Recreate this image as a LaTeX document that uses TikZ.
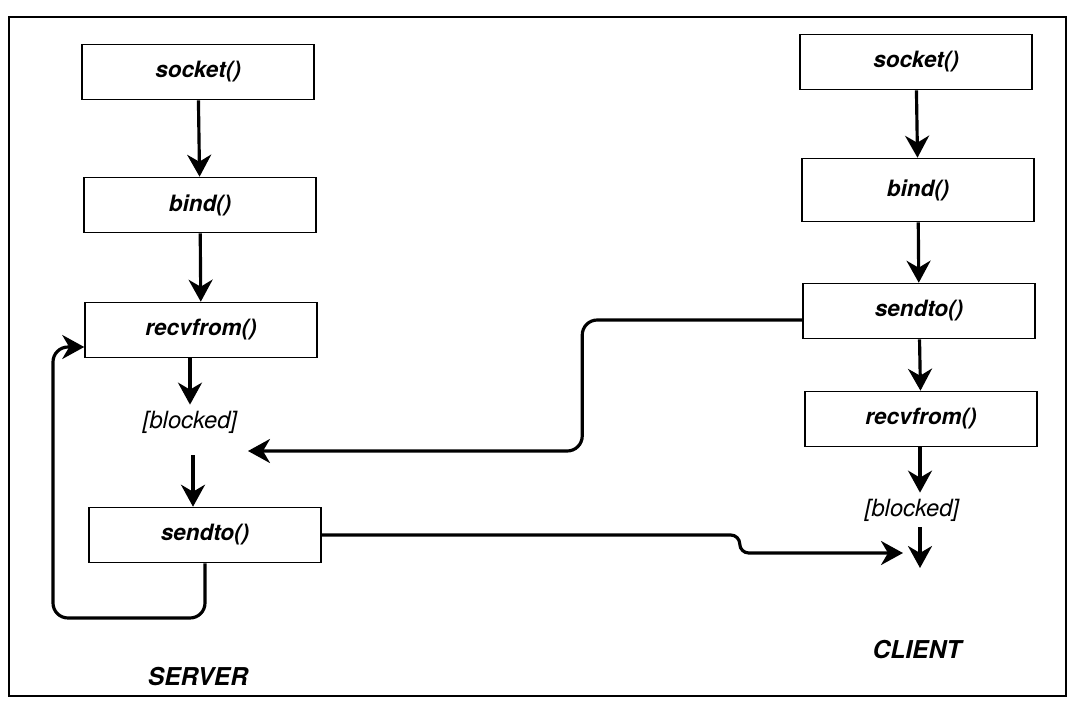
\documentclass[tikz,border=0pt]{standalone}
\usepackage{fontspec}
\setmainfont{TeX Gyre Heros}
\usetikzlibrary{arrows.meta}
\tikzset{
  call/.style={draw, line width=0.9pt, minimum width=4.64cm, minimum height=1.1cm,
    inner sep=0pt, font=\fontsize{12.8}{15}\selectfont\bfseries\itshape},
  waitlabel/.style={font=\fontsize{13.5}{16}\selectfont\itshape},
  sidelabel/.style={font=\fontsize{14}{17}\selectfont\bfseries\itshape},
  flow/.style={-{Stealth[length=0.44cm,width=0.48cm,inset=0.14cm]}, line width=1.8pt},
}
\begin{document}
\begin{tikzpicture}[x=0.02cm,y=-0.02cm]
      \useasboundingbox (0,0) rectangle (1072,707);
      \draw[line width=1.2pt] (9,17) rectangle (1066,696);
      % server side
      \draw
        (198,72) node[call] (ssock){socket()}
        (200,205) node[call] (sbind){bind()}
        (201,330) node[call] (srecv){recvfrom()}
        (190,422) node[waitlabel] (sblk){[blocked]}
        (205,535) node[call] (ssend){sendto()}
        (198,677) node[sidelabel] (server){SERVER};
      \coordinate (swait) at (193,455);
      \coordinate (sin) at (248,451);
      \coordinate (sloop) at (53,618);
      % client side
      \draw
        (916,62) node[call] (csock){socket()}
        (918,190) node[call, minimum height=1.26cm] (cbind){bind()}
        (919,311) node[call] (csend){sendto()}
        (921,419) node[call] (crecv){recvfrom()}
        (912,510) node[waitlabel] (cblk){[blocked]}
        (917,650) node[sidelabel] (client){CLIENT};
      \coordinate (cend) at (920,568);
      \coordinate (cin) at (903,553);
      \begin{scope}[flow]
        \draw (ssock) to (sbind);
        \draw (sbind) to (srecv);
        \draw (srecv.south -| sblk) to (sblk);
        \draw (swait) to (swait |- ssend.north);
        \draw[rounded corners=0.3cm] (ssend.south) |- (sloop) |- ([yshift=-0.34cm]srecv.west);
        \draw (csock) to (cbind);
        \draw (cbind) to (csend);
        \draw (csend) to (crecv);
        \draw (crecv.south -| cend) to (cblk.north -| cend);
        \draw (cblk.south -| cend) to (cend);
        \draw[rounded corners=0.3cm] ([yshift=-0.18cm]csend.west) -- ++(-220,0) |- (sin);
        \draw[rounded corners=0.18cm] (ssend.east) -- ++(418,0) |- (cin);
      \end{scope}
    \end{tikzpicture}
\end{document}
